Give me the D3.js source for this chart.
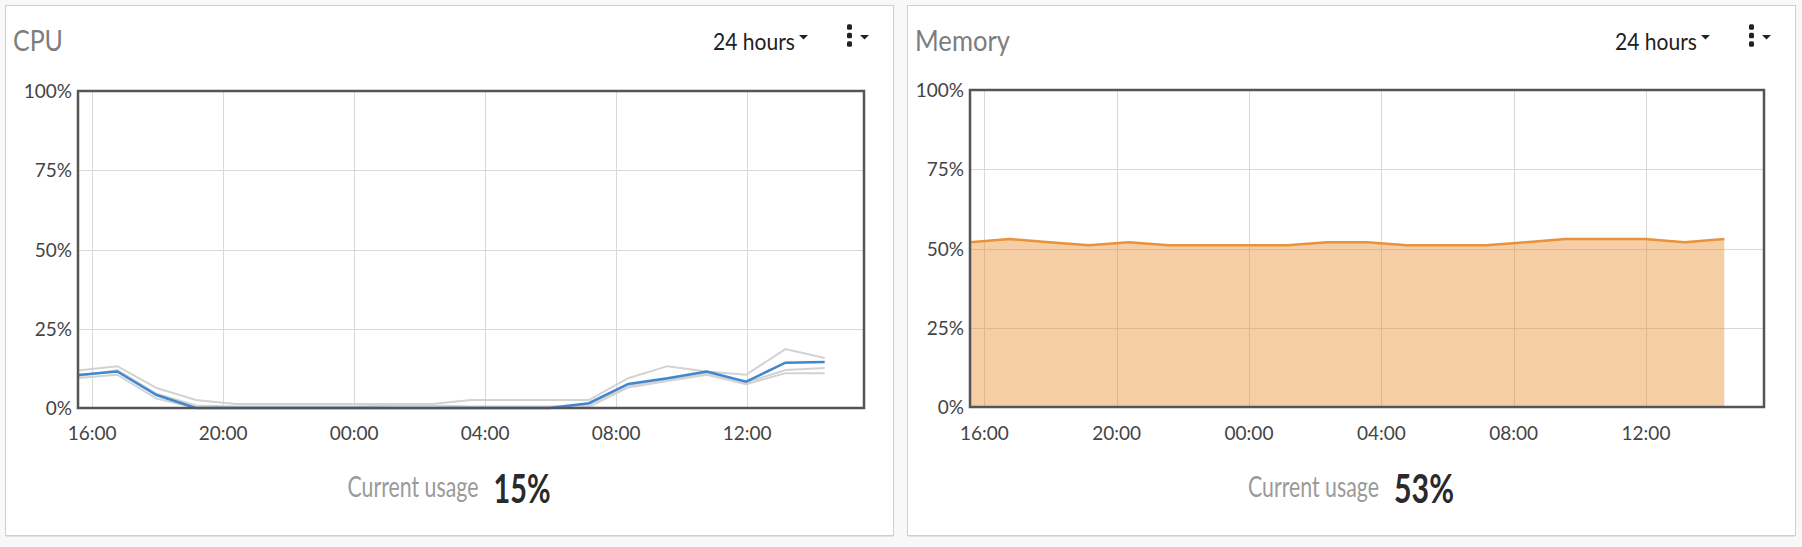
<!DOCTYPE html>
<html>
<head>
<meta charset="utf-8">
<script src="https://cdn.jsdelivr.net/npm/d3@7"></script>
<style>
  body { margin: 0; background: #f8f8f8; font-family: Lato, "Open Sans", sans-serif; }
  svg { display: block; }
</style>
</head>
<body>
<div class="Charts"></div>
<script>
// sample times (every reading over the last 24 hours)
var sampleTimes = ["15:34", "16:46", "17:58", "19:10", "20:22", "21:34", "22:46", "23:58",
                   "01:10", "02:22", "03:34", "04:46", "05:58", "07:10", "08:22", "09:34",
                   "10:46", "11:58", "13:10", "14:22"];
var tickTimes = ["16:00", "20:00", "00:00", "04:00", "08:00", "12:00"];
var yTicks = [0, 25, 50, 75, 100];

// cpu total (blue) and per core (gray)
var cpuTotal = [10.4, 11.5, 4.1, 0, 0, 0, 0, 0, 0, 0, 0, 0, 0, 1.5, 7.6, 9.4, 11.5, 8.3, 14.3, 14.5];
var cpuCoreA = [11.8, 13.2, 6.3, 2.5, 1.3, 1.3, 1.3, 1.3, 1.3, 1.3, 2.5, 2.5, 2.5, 2.5, 9.4, 13.2, 11.5, 10.5, 18.6, 15.8];
var cpuCoreB = [10.0, 12.0, 4.5, 0.8, 0.5, 0.5, 0.5, 0.5, 0.8, 0.8, 0.5, 0.5, 0.5, 1.0, 7.0, 9.0, 11.0, 8.0, 12.0, 12.6];
var cpuCoreC = [9.5, 10.5, 3.0, 0, 0, 0, 0, 0, 0, 0, 0, 0, 0, 0.3, 6.5, 8.5, 10.5, 7.5, 11.0, 11.0];

// memory used
var memoryUsed = [52, 53, 52, 51, 52, 51, 51, 51, 51, 52, 52, 51, 51, 51, 52, 53, 53, 53, 52, 53];

var currentCpu = "15%";
var currentMemory = "53%";

// turn "hh:mm" into a date, times before 15:00 fall on the next day
var parseHM = d3.timeParse("%Y-%m-%d %H:%M");
function toDate(s) {
  var h = parseInt(s.split(":")[0]);
  return parseHM((h < 15 ? "2024-01-02 " : "2024-01-01 ") + s);
}
var dates = sampleTimes.map(toDate);
var start = dates[0];
var end = d3.timeHour.offset(start, 24);

var width = 1802, height = 547;
var svg = d3.select(".Charts").append("svg")
            .attr("width", width)
            .attr("height", height);

// a text, squeezed sideways to a given width when len is set
function addText(g, x, y, str, opts) {
  var holder = g.append("g").attr("transform", "translate(" + x + "," + y + ")");
  var t = holder.append("text")
           .attr("font-size", opts.size)
           .attr("font-weight", opts.weight || 400)
           .attr("fill", opts.color)
           .attr("text-anchor", opts.anchor || "start")
           .text(str);
  if (opts.len) {
    var natural = t.node().getComputedTextLength();
    holder.attr("transform", "translate(" + x + "," + y + ") scale(" + (opts.len / natural) + ",1)");
  }
  return t;
}

function drawPanel(p) {
  var g = svg.append("g");

  // card
  g.append("rect")
   .attr("x", p.x + 0.5).attr("y", 5.5)
   .attr("width", p.w).attr("height", 530)
   .attr("fill", "#fff")
   .attr("stroke", "#cfcfcf");
  g.append("line")
   .attr("x1", p.x + 1).attr("x2", p.x + p.w)
   .attr("y1", 536.5).attr("y2", 536.5)
   .attr("stroke", "#e2e2e2");

  // header
  addText(g, p.x + 8, 51, p.title, {size: 29, weight: 400, color: "#7d7d7d", len: p.titleLen});
  addText(g, p.x + 708, 50, "24 hours", {size: 23, color: "#222", len: 82});
  var hx = p.x + 708;
  g.append("path")
   .attr("d", "M" + (hx + 86) + ",35 h9 l-4.5,4.5 z")
   .attr("fill", "#222");
  g.selectAll("rect.dot")
   .data([27, 35.5, 44])
   .enter().append("rect")
   .attr("class", "dot")
   .attr("x", hx + 134).attr("y", function(d) { return d - 2.8; })
   .attr("width", 5).attr("height", 5.6)
   .attr("rx", 1.5)
   .attr("fill", "#222");
  g.append("path")
   .attr("d", "M" + (hx + 147) + ",35 h9 l-4.5,4.5 z")
   .attr("fill", "#222");

  // scales
  var x = d3.scaleTime().domain([start, end]).range([p.left, p.right]);
  var y = d3.scaleLinear().domain([0, 100]).range([p.bottom, p.top]);

  // grid
  g.append("g")
   .selectAll("line.v")
   .data(tickTimes.map(toDate))
   .enter().append("line")
   .attr("x1", function(d) { return Math.round(x(d)) + 0.5; })
   .attr("x2", function(d) { return Math.round(x(d)) + 0.5; })
   .attr("y1", p.top).attr("y2", p.bottom)
   .attr("stroke", "#d8d8d8");
  g.append("g")
   .selectAll("line.h")
   .data(yTicks)
   .enter().append("line")
   .attr("x1", p.left).attr("x2", p.right)
   .attr("y1", function(d) { return Math.round(y(d)) + 0.5; })
   .attr("y2", function(d) { return Math.round(y(d)) + 0.5; })
   .attr("stroke", "#d8d8d8");

  // series
  p.draw(g, x, y);

  // frame
  g.append("rect")
   .attr("x", p.left).attr("y", p.top)
   .attr("width", p.right - p.left).attr("height", p.bottom - p.top)
   .attr("fill", "none")
   .attr("stroke", "#555")
   .attr("stroke-width", 2.5);

  // axes labels
  yTicks.forEach(function(v) {
    addText(g, p.left - 6, y(v) + 7, v + "%", {size: 19, color: "#444", anchor: "end"});
  });
  tickTimes.forEach(function(s) {
    addText(g, x(toDate(s)), 440, s, {size: 19, color: "#444", anchor: "middle"});
  });

  // footer
  var cx = p.x + p.w / 2;
  var x0 = cx - (131 + 15 + p.valueLen) / 2;
  addText(g, x0, 497, "Current usage", {size: 29, weight: 400, color: "#9a9a9a", len: 131});
  addText(g, x0 + 146, 503, p.value, {size: 40, weight: 700, color: "#2a2a2a", len: p.valueLen});
}

var line = function(x, y) {
  return d3.line()
           .x(function(d, i) { return x(dates[i]); })
           .y(function(d) { return y(d); });
};

drawPanel({
  x: 5, w: 888, title: "CPU", titleLen: 50,
  left: 78, right: 864, top: 91, bottom: 408,
  value: currentCpu, valueLen: 57,
  draw: function(g, x, y) {
    [cpuCoreA, cpuCoreB, cpuCoreC].forEach(function(s) {
      g.append("path")
       .datum(s)
       .attr("d", line(x, y))
       .attr("fill", "none")
       .attr("stroke", "#d2d2d2")
       .attr("stroke-width", 2);
    });
    g.append("path")
     .datum(cpuTotal)
     .attr("d", line(x, y))
     .attr("fill", "none")
     .attr("stroke", "#4187cf")
     .attr("stroke-width", 2.5);
  }
});

drawPanel({
  x: 907, w: 888, title: "Memory", titleLen: 95,
  left: 970, right: 1764, top: 90, bottom: 407,
  value: currentMemory, valueLen: 60,
  draw: function(g, x, y) {
    var area = d3.area()
                 .x(function(d, i) { return x(dates[i]); })
                 .y0(y(0))
                 .y1(function(d) { return y(d); });
    g.append("path")
     .datum(memoryUsed)
     .attr("d", area)
     .attr("fill", "#e8923a")
     .attr("fill-opacity", 0.45);
    g.append("path")
     .datum(memoryUsed)
     .attr("d", line(x, y))
     .attr("fill", "none")
     .attr("stroke", "#e8923a")
     .attr("stroke-width", 2.5);
  }
});
</script>
</body>
</html>
